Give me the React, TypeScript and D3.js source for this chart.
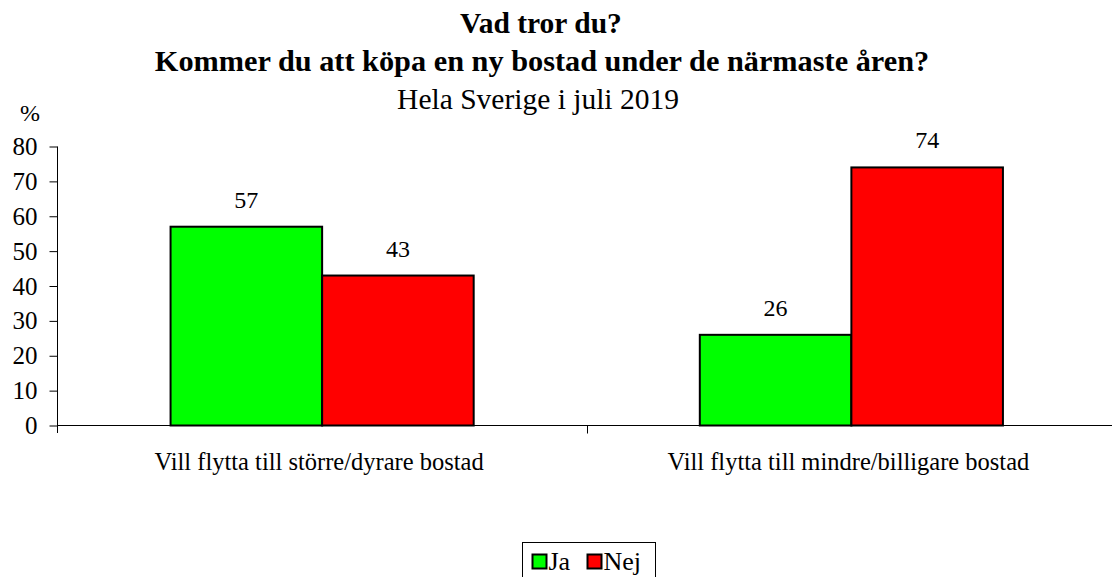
import React, { useEffect, useRef } from "react";
import * as d3 from "d3";

const categories = [
  "Vill flytta till större/dyrare bostad",
  "Vill flytta till mindre/billigare bostad",
];
const seriesNames = ["Ja", "Nej"];
const jaValues = [57, 26];
const nejValues = [43, 74];
const yTicks = [0, 10, 20, 30, 40, 50, 60, 70, 80];
const colors = ["#00FF00", "#FF0000"];

const width = 1112;
const height = 577;
const font = "'Liberation Serif', 'Times New Roman', serif";

const App = () => {
  const ref = useRef<SVGSVGElement>(null);

  useEffect(() => {
    const svg = d3.select(ref.current);
    svg.selectAll("*").remove();

    const x0 = d3.scaleBand().domain(categories).range([57.5, 1116]);
    const x1 = d3
      .scaleBand()
      .domain(seriesNames)
      .range([0, x0.bandwidth()])
      .paddingOuter(0.746);
    const y = d3.scaleLinear().domain([0, 80]).range([425.5, 146.5]);

    // titles
    const title = svg
      .append("g")
      .attr("font-family", font)
      .attr("text-anchor", "middle")
      .attr("fill", "#000");
    title
      .append("text")
      .attr("x", 541)
      .attr("y", 33)
      .attr("font-size", 29.5)
      .attr("font-weight", "bold")
      .text("Vad tror du?");
    title
      .append("text")
      .attr("x", 542)
      .attr("y", 71)
      .attr("font-size", 30.3)
      .attr("font-weight", "bold")
      .text("Kommer du att köpa en ny bostad under de närmaste åren?");
    title
      .append("text")
      .attr("x", 538)
      .attr("y", 109)
      .attr("font-size", 29.5)
      .text("Hela Sverige i juli 2019");

    svg
      .append("text")
      .attr("x", 20)
      .attr("y", 121)
      .attr("font-family", font)
      .attr("font-size", 24)
      .text("%");

    // bars
    const data = categories.map((c, i) => ({
      cat: c,
      vals: [jaValues[i], nejValues[i]],
    }));
    const groups = svg
      .append("g")
      .selectAll("g")
      .data(data)
      .join("g")
      .attr("transform", (d) => `translate(${x0(d.cat)},0)`);

    groups
      .selectAll("rect")
      .data((d) => d.vals.map((v, j) => ({ s: seriesNames[j], v, j })))
      .join("rect")
      .attr("x", (d) => x1(d.s)!)
      .attr("y", (d) => y(d.v))
      .attr("width", x1.bandwidth())
      .attr("height", (d) => y(0) - y(d.v))
      .attr("fill", (d) => colors[d.j])
      .attr("stroke", "#000")
      .attr("stroke-width", 2);

    groups
      .selectAll("text")
      .data((d) => d.vals.map((v, j) => ({ s: seriesNames[j], v })))
      .join("text")
      .attr("x", (d) => x1(d.s)! + x1.bandwidth() / 2)
      .attr("y", (d) => y(d.v) - 19)
      .attr("text-anchor", "middle")
      .attr("font-family", font)
      .attr("font-size", 24)
      .text((d) => d.v);

    // y axis
    const yAxis = svg
      .append("g")
      .attr("transform", "translate(57.5,0)")
      .call(d3.axisLeft(y).tickValues(yTicks).tickSize(8).tickSizeOuter(0));
    yAxis.select(".domain").attr("stroke", "#000").attr("d", `M0,${y(80)}V433`);
    yAxis.selectAll("line").attr("stroke", "#000");
    yAxis
      .selectAll("text")
      .attr("font-family", font)
      .attr("font-size", 25)
      .attr("fill", "#000")
      .attr("x", -20);

    // x axis
    const xAxis = svg.append("g").attr("transform", `translate(0,${y(0)})`);
    xAxis
      .append("line")
      .attr("x1", 57.5)
      .attr("x2", width)
      .attr("stroke", "#000");
    xAxis
      .selectAll("line.tick")
      .data(categories.slice(1))
      .join("line")
      .attr("class", "tick")
      .attr("x1", (d) => Math.round(x0(d)!) + 0.5)
      .attr("x2", (d) => Math.round(x0(d)!) + 0.5)
      .attr("y2", 8)
      .attr("stroke", "#000");
    xAxis
      .selectAll("text")
      .data(categories)
      .join("text")
      .attr("x", (d) => x0(d)! + x0.bandwidth() / 2 - 3)
      .attr("y", 44)
      .attr("text-anchor", "middle")
      .attr("font-family", font)
      .attr("font-size", 24.5)
      .text((d) => d);

    // legend
    const legend = svg.append("g").attr("font-family", font);
    legend
      .append("rect")
      .attr("x", 522.5)
      .attr("y", 542.5)
      .attr("width", 133)
      .attr("height", 50)
      .attr("fill", "#fff")
      .attr("stroke", "#000");
    const items = legend
      .selectAll("g")
      .data(seriesNames)
      .join("g")
      .attr("transform", (d, i) => `translate(${532.5 + i * 55},554.5)`);
    items
      .append("rect")
      .attr("width", 14)
      .attr("height", 14)
      .attr("fill", (d, i) => colors[i])
      .attr("stroke", "#000")
      .attr("stroke-width", 2);
    items
      .append("text")
      .attr("x", 16)
      .attr("y", 15)
      .attr("font-size", 26)
      .text((d) => d);
  }, []);

  return (
    <div style={{ position: "absolute", left: 0, top: 0 }}>
      <svg ref={ref} width={width} height={height} style={{ display: "block" }} />
    </div>
  );
};

export default App;
